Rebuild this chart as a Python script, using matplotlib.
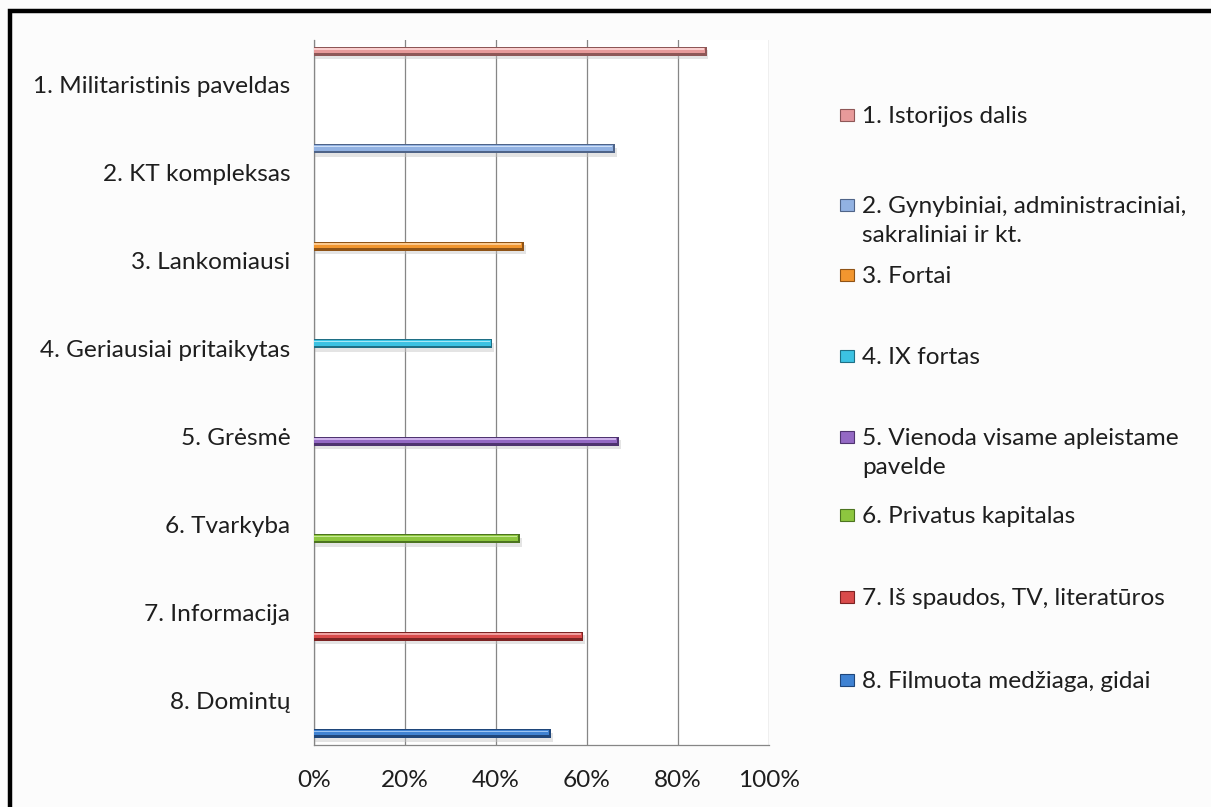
import matplotlib.pyplot as plt
from matplotlib.patches import Rectangle

# data
categories = ['1. Militaristinis paveldas', '2. KT kompleksas', '3. Lankomiausi',
              '4. Geriausiai pritaikytas', '5. Grėsmė', '6. Tvarkyba',
              '7. Informacija', '8. Domintų']
series_names = ['1. Istorijos dalis',
                '2. Gynybiniai, administraciniai,\nsakraliniai ir kt.',
                '3. Fortai', '4. IX fortas',
                '5. Vienoda visame apleistame\npavelde',
                '6. Privatus kapitalas', '7. Iš spaudos, TV, literatūros',
                '8. Filmuota medžiaga, gidai']
values = [0.863, 0.662, 0.462, 0.392, 0.670, 0.453, 0.592, 0.521]
x_ticks = [0, 0.2, 0.4, 0.6, 0.8, 1.0]
x_tick_labels = ['0%', '20%', '40%', '60%', '80%', '100%']

# styling
main_colors = ['#e79a9a', '#92b2e2', '#f2962f', '#3cc2e2', '#9469c4', '#8dc63f', '#d94b4b', '#3f82d2']
dark_colors = ['#8e5757', '#4f6488', '#8f5316', '#1f6f85', '#4f3470', '#4c7420', '#7c2323', '#1f467a']
light_colors = ['#fbd0d0', '#cfe0f8', '#fcc98e', '#a6e8f6', '#cdb2ea', '#c8ea96', '#f0a0a0', '#9cc4f2']
text_color = '#1e1e1e'
grid_color = '#868686'
fsize = 17.6

plt.rcParams['font.family'] = ['Lato', 'DejaVu Sans']

W, H = 1211, 807
fig = plt.figure(figsize=(W / 100, H / 100), dpi=100, facecolor='#fcfcfc')
ax = fig.add_axes([314 / W, 1 - 745 / H, (769 - 314) / W, (745 - 40) / H])
ax.set_facecolor('white')

n = len(categories)
step = 0.106      # clustered slots, only one series per category has a value
bar_h = 0.1
for i, v in enumerate(values):
    y = i + (i - (n - 1) / 2) * step
    ax.barh(y + 0.04, v + 0.004, height=bar_h, color='#c4c4c4', alpha=0.45, zorder=2)
    ax.barh(y, v, height=bar_h, color=dark_colors[i], zorder=3)
    ax.barh(y - bar_h * 0.1, v - 0.004, height=bar_h * 0.62, color=main_colors[i], zorder=4)
    ax.barh(y - bar_h * 0.26, v - 0.006, height=bar_h * 0.16, color=light_colors[i], zorder=5)

ax.set_ylim(n - 0.5, -0.5)
ax.set_yticks(range(n))
ax.set_yticklabels(categories, fontsize=fsize, color=text_color)
ax.set_xlim(0, 1)
ax.set_xticks(x_ticks)
ax.set_xticklabels(x_tick_labels, fontsize=fsize, color=text_color)
ax.tick_params(axis='both', length=0)
ax.tick_params(axis='y', pad=17)
ax.tick_params(axis='x', pad=18)
ax.grid(axis='x', color=grid_color, linewidth=0.9)
ax.set_axisbelow(True)
for side in ['top', 'right']:
    ax.spines[side].set_visible(False)
for side in ['left', 'bottom']:
    ax.spines[side].set_color(grid_color)
    ax.spines[side].set_linewidth(0.9)

# legend drawn by hand so multi-line entries keep the marker on the first line
legend_rows_px = [115, 205, 275, 356, 437, 515, 597, 680]
line_px = 29
for i, name in enumerate(series_names):
    yp = legend_rows_px[i]
    fig.add_artist(Rectangle((840 / W, 1 - (yp + 6) / H), 14 / W, 12 / H,
                             transform=fig.transFigure, facecolor=main_colors[i],
                             edgecolor=dark_colors[i], linewidth=0.8))
    for k, line in enumerate(name.split('\n')):
        fig.text(862 / W, 1 - (yp + 8 + k * line_px) / H, line, fontsize=fsize,
                 color=text_color, ha='left', va='baseline')

# black frame on the left and top of the picture
fig.add_artist(Rectangle((9.5 / W, -0.1), 1.2, (H - 11.3) / H + 0.1, transform=fig.transFigure,
                         fill=False, edgecolor='black', linewidth=3.2))

fig.savefig('out.png', dpi=100, facecolor=fig.get_facecolor())
